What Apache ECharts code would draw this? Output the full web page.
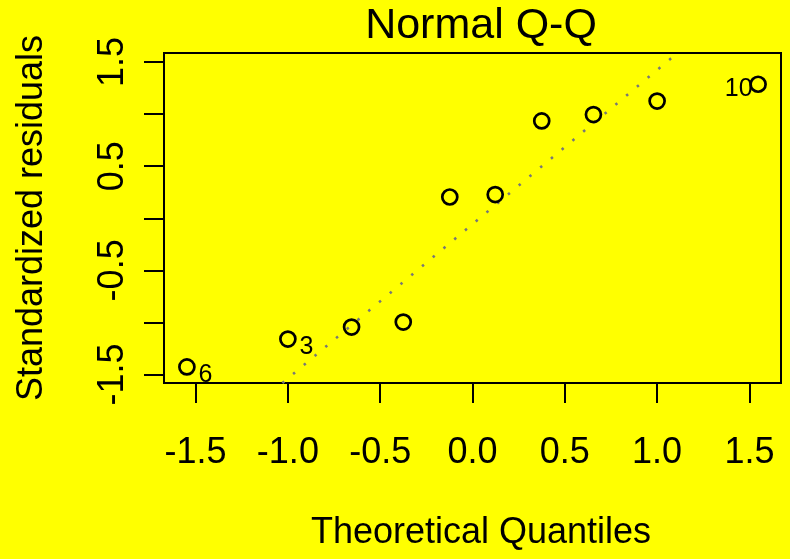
<!DOCTYPE html>
<html>
<head>
<meta charset="utf-8">
<title>Normal Q-Q</title>
<script src="https://cdn.jsdelivr.net/npm/echarts@6/dist/echarts.min.js"></script>
<style>
  html, body { margin: 0; padding: 0; background: #ffff00; }
  #chart { width: 790px; height: 559px; }
</style>
</head>
<body>
<div id="chart"></div>
<script>
// Theoretical normal quantiles (x) and sorted standardized residuals (y)
const theoreticalQ = [-1.547, -1.000, -0.655, -0.375, -0.123, 0.123, 0.375, 0.655, 1.000, 1.547];
const stdResiduals = [-1.427, -1.159, -1.044, -0.996, 0.204, 0.227, 0.934, 0.995, 1.125, 1.286];
// Observation ids shown next to the most extreme residuals
const obsLabels = ['6', '3', '', '', '', '', '', '', '', '10'];
// Reference line (dotted) end points
const refLineX = [-1.03, 1.11];
const refLineY = [-1.581, 1.586];
// Axis ranges and ticks
const xRange = [-1.671, 1.671];
const yRange = [-1.581, 1.586];
const xTicks = [-1.5, -1.0, -0.5, 0.0, 0.5, 1.0, 1.5];
const yTicks = [-1.5, -1.0, -0.5, 0.0, 0.5, 1.0, 1.5];
const yTickLabels = [-1.5, -0.5, 0.5, 1.5];

const FONT = 'Liberation Sans';

const points = theoreticalQ.map((x, i) => ({
  value: [x, stdResiduals[i]],
  name: obsLabels[i]
}));

const labelled = points.filter(p => p.name !== '').map(p => {
  const onRight = p.value[0] > 0;
  return {
    value: p.value,
    name: p.name,
    label: {
      show: true,
      position: onRight ? 'left' : 'right',
      distance: onRight ? -2 : 4,
      offset: onRight ? [0, 5] : [0, 8]
    }
  };
});

const chart = echarts.init(document.getElementById('chart'), null, { renderer: 'canvas' });

chart.setOption({
  backgroundColor: '#ffff00',
  animation: false,
  title: {
    text: 'Normal Q-Q',
    left: 476,
    top: 0,
    textAlign: 'center',
    textStyle: { fontFamily: FONT, fontSize: 43, fontWeight: 'normal', color: '#000' }
  },
  grid: {
    left: 164, right: 9, top: 53, bottom: 176,
    show: true, borderColor: '#000', borderWidth: 2, backgroundColor: 'transparent'
  },
  xAxis: {
    type: 'value',
    min: xRange[0], max: xRange[1],
    name: 'Theoretical Quantiles',
    nameLocation: 'middle',
    nameGap: 132,
    nameTextStyle: { fontFamily: FONT, fontSize: 36, color: '#000', padding: [0, 0, 0, 17] },
    splitLine: { show: false },
    axisLine: { show: false, onZero: false },
    axisTick: { show: true, customValues: xTicks, length: 20, inside: false, lineStyle: { color: '#000', width: 2 } },
    axisLabel: {
      customValues: xTicks, margin: 52,
      fontFamily: FONT, fontSize: 36, color: '#000',
      formatter: v => v.toFixed(1)
    }
  },
  yAxis: {
    type: 'value',
    min: yRange[0], max: yRange[1],
    name: 'Standardized residuals',
    nameLocation: 'middle',
    nameRotate: 90,
    nameGap: 114,
    nameTextStyle: { fontFamily: FONT, fontSize: 36, color: '#000' },
    splitLine: { show: false },
    axisLine: { show: false, onZero: false },
    axisTick: { show: true, customValues: yTicks, length: 20, inside: false, lineStyle: { color: '#000', width: 2 } },
    axisLabel: {
      customValues: yTickLabels, margin: 33, rotate: 90,
      fontFamily: FONT, fontSize: 36, color: '#000',
      formatter: v => v.toFixed(1)
    }
  },
  series: [
    {
      type: 'line',
      data: refLineX.map((x, i) => [x, refLineY[i]]),
      showSymbol: false,
      clip: true,
      silent: true,
      lineStyle: { color: '#777777', width: 2.6, type: [2.5, 11.5] },
      z: 1
    },
    {
      type: 'scatter',
      data: points,
      symbol: 'circle',
      symbolSize: 15,
      itemStyle: { color: 'transparent', borderColor: '#000', borderWidth: 2.7, opacity: 1 },
      z: 2
    },
    {
      type: 'scatter',
      data: labelled,
      symbolSize: 15,
      itemStyle: { color: 'transparent', borderWidth: 0, opacity: 1 },
      label: {
        show: true,
        formatter: p => p.name,
        fontFamily: FONT, fontSize: 25, color: '#000'
      },
      z: 3
    }
  ]
});
</script>
</body>
</html>
